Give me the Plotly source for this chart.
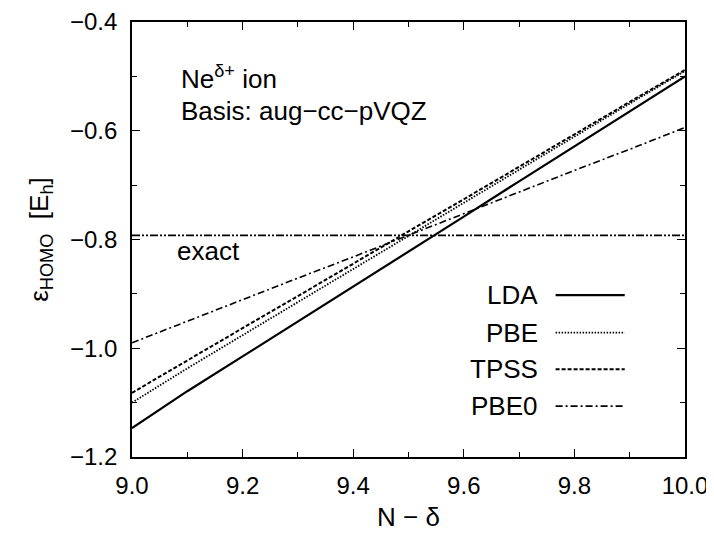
import plotly.graph_objects as go

x_vals = [9.0, 9.1, 9.2, 9.3, 9.4, 9.5, 9.6, 9.7, 9.8, 9.9, 10.0]
lda = [-1.147, -1.079, -1.015, -0.951, -0.886, -0.822, -0.758, -0.693, -0.629, -0.564, -0.500]
pbe = [-1.100, -1.037, -0.976, -0.915, -0.854, -0.794, -0.733, -0.672, -0.611, -0.550, -0.490]
tpss = [-1.082, -1.022, -0.963, -0.904, -0.844, -0.785, -0.726, -0.666, -0.607, -0.547, -0.488]
pbe0 = [-0.990, -0.950, -0.911, -0.871, -0.832, -0.792, -0.752, -0.713, -0.673, -0.634, -0.594]
exact_val = -0.7925

series_names = ["LDA", "PBE", "TPSS", "PBE0"]
series_vals = [lda, pbe, tpss, pbe0]
dashes = ["solid", "1.5px,1.5px", "4px,2px", "7px,3px,2px,3px"]
widths = [2.2, 1.8, 2, 1.6]

FONT = "Liberation Sans, Arial, Helvetica, sans-serif"
FS = 26
TFS = 24

fig = go.Figure()
for name, vals, d, w in zip(series_names, series_vals, dashes, widths):
    fig.add_trace(go.Scatter(x=x_vals, y=vals, mode="lines", name=name,
                             line=dict(color="black", width=w, dash=d),
                             showlegend=False))
fig.add_trace(go.Scatter(x=[x_vals[0], x_vals[-1]], y=[exact_val, exact_val], mode="lines",
                         line=dict(color="black", width=1.6, dash="8px,2px,2px,2px,2px,2px"),
                         showlegend=False, name="exact"))

# manual legend (text right, sample line to the right)
leg_y = [0.372, 0.286, 0.202, 0.117]
for name, d, w, ly in zip(series_names, dashes, widths, leg_y):
    fig.add_annotation(xref="paper", yref="paper", x=0.738, y=ly, text=name,
                       showarrow=False, xanchor="right", yanchor="middle",
                       font=dict(family=FONT, size=FS, color="black"))
    fig.add_shape(type="line", xref="paper", yref="paper", x0=0.766, x1=0.891, y0=ly, y1=ly,
                  line=dict(color="black", width=w, dash=d))

fig.add_annotation(xref="paper", yref="paper", x=0.085, y=0.872, text="Ne<sup>δ+</sup> ion",
                   showarrow=False, xanchor="left", yanchor="middle",
                   font=dict(family=FONT, size=FS, color="black"))
fig.add_annotation(xref="paper", yref="paper", x=0.085, y=0.795, text="Basis: aug−cc−pVQZ",
                   showarrow=False, xanchor="left", yanchor="middle",
                   font=dict(family=FONT, size=FS, color="black"))
fig.add_annotation(xref="paper", yref="paper", x=0.078, y=0.474, text="exact",
                   showarrow=False, xanchor="left", yanchor="middle",
                   font=dict(family=FONT, size=FS, color="black"))

axis_common = dict(showline=True, linecolor="black", linewidth=1.8, mirror="allticks",
                   ticks="inside", ticklen=8, tickwidth=1.2, tickcolor="black",
                   showgrid=False, zeroline=False, ticklabeloverflow="allow", automargin=False,
                   tickfont=dict(family=FONT, size=TFS, color="black"),
                   minor=dict(ticks="inside", ticklen=5, tickcolor="black", tickwidth=1.2, showgrid=False))

fig.update_xaxes(range=[9.0, 10.0], dtick=0.2, tick0=9.0, tickformat=".1f",
                 minor_dtick=0.1, ticklabelstandoff=6,
                 title=dict(text="N − δ", font=dict(family=FONT, size=FS, color="black"), standoff=10),
                 **axis_common)
fig.update_yaxes(range=[-1.2, -0.4], dtick=0.2, tick0=-1.2, tickformat=".1f",
                 minor_dtick=0.1, ticklabelstandoff=8,
                 title=dict(text="ε<sub>HOMO</sub>  [E<sub>h</sub>]",
                            font=dict(family=FONT, size=FS, color="black"), standoff=14),
                 **axis_common)

fig.update_layout(width=714, height=534, margin=dict(l=124, r=37, t=14, b=85, autoexpand=False),
                  plot_bgcolor="white", paper_bgcolor="white",
                  font=dict(family=FONT, size=FS, color="black"))

fig.write_html("out.html")
